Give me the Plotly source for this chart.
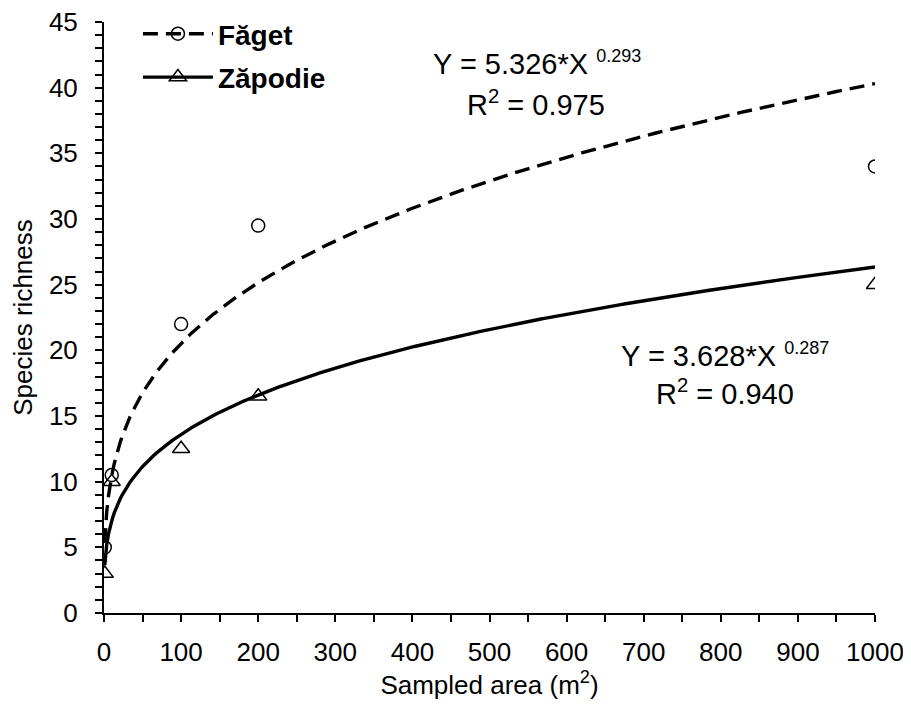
import numpy as np
import plotly.graph_objects as go

area = [1, 10, 100, 200, 1000]
faget = [5, 10.5, 22, 29.5, 34]
zapodie = [3, 10, 12.5, 16.5, 25]

# Fitted power-model coefficients printed on the chart: Y = a*X^b
faget_fit = {"a": 5.326, "b": 0.293, "r2": 0.975}
zapodie_fit = {"a": 3.628, "b": 0.287, "r2": 0.940}

x_ticks = [0, 100, 200, 300, 400, 500, 600, 700, 800, 900, 1000]
y_ticks = [0, 5, 10, 15, 20, 25, 30, 35, 40, 45]

xfit = np.linspace(1, 1000, 400)
FONT = "Liberation Sans, Arial, sans-serif"
DASH = "15px,8px"

fig = go.Figure()
fig.add_trace(go.Scatter(
    x=xfit, y=faget_fit["a"] * xfit ** faget_fit["b"], mode="lines",
    line=dict(color="black", width=3.4, dash=DASH),
    showlegend=False, hoverinfo="skip"))
fig.add_trace(go.Scatter(
    x=xfit, y=zapodie_fit["a"] * xfit ** zapodie_fit["b"], mode="lines",
    line=dict(color="black", width=3.4),
    showlegend=False, hoverinfo="skip"))
fig.add_trace(go.Scatter(
    x=area, y=faget, mode="markers", showlegend=False,
    marker=dict(symbol="circle-open", size=13, color="black", line=dict(width=1.5))))
fig.add_trace(go.Scatter(
    x=area, y=zapodie, mode="markers", showlegend=False,
    marker=dict(symbol="triangle-up-open", size=15, color="black", line=dict(width=1.5))))
# legend entries (line + marker)
fig.add_trace(go.Scatter(
    x=[None], y=[None], mode="lines+markers", name="<b>Făget</b>", legendgroup="f",
    marker=dict(symbol="circle-open", size=13, color="black", line=dict(width=1.5)),
    line=dict(color="black", width=3.4, dash=DASH)))
fig.add_trace(go.Scatter(
    x=[None], y=[None], mode="lines+markers", name="<b>Zăpodie</b>", legendgroup="z",
    marker=dict(symbol="triangle-up-open", size=15, color="black", line=dict(width=1.5)),
    line=dict(color="black", width=3.4)))

ann_font = dict(family=FONT, size=29, color="black")
SUP = "<sup><span style='font-size:18px'>{}</span></sup>"
fig.add_annotation(x=562, y=41.9, xref="x", yref="y",
                   text="Y = 5.326*X " + SUP.format("0.293"), showarrow=False, font=ann_font)
fig.add_annotation(x=560, y=38.85, xref="x", yref="y",
                   text="R<sup>2</sup> = 0.975", showarrow=False, font=ann_font)
fig.add_annotation(x=805, y=19.65, xref="x", yref="y",
                   text="Y = 3.628*X " + SUP.format("0.287"), showarrow=False, font=ann_font)
fig.add_annotation(x=805, y=16.85, xref="x", yref="y",
                   text="R<sup>2</sup> = 0.940", showarrow=False, font=ann_font)

fig.update_layout(
    width=903, height=701,
    margin=dict(l=96, r=36, t=14, b=96, autoexpand=False),
    paper_bgcolor="white", plot_bgcolor="white",
    font=dict(family=FONT, size=26, color="black"),
    showlegend=True,
    legend=dict(x=0.044, y=1.022, xanchor="left", yanchor="top",
                font=dict(family=FONT, size=28, color="black"),
                bgcolor="rgba(0,0,0,0)", itemwidth=70, tracegroupgap=4),
    xaxis=dict(range=[0, 1000], tickvals=x_ticks, showgrid=False, zeroline=False,
               showline=True, linecolor="black", linewidth=2, automargin=False,
               ticks="outside", ticklen=7, tickwidth=2, tickcolor="black",
               tickfont=dict(size=26), ticklabelstandoff=8, ticklabeloverflow="allow",
               minor=dict(dtick=50, ticks="outside", ticklen=7, tickwidth=2, tickcolor="black"),
               title=dict(text="Sampled area (m<sup>2</sup>)", font=dict(size=26), standoff=8)),
    yaxis=dict(range=[0, 45], tickvals=y_ticks, showgrid=False, zeroline=False,
               showline=True, linecolor="black", linewidth=2, automargin=False,
               ticks="outside", ticklen=7, tickwidth=2, tickcolor="black",
               tickfont=dict(size=26), ticklabelstandoff=12, ticklabeloverflow="allow",
               minor=dict(dtick=1, ticks="outside", ticklen=7, tickwidth=2, tickcolor="black"),
               title=dict(text="Species richness", font=dict(size=26), standoff=12)),
)
fig.write_html("out.html")
